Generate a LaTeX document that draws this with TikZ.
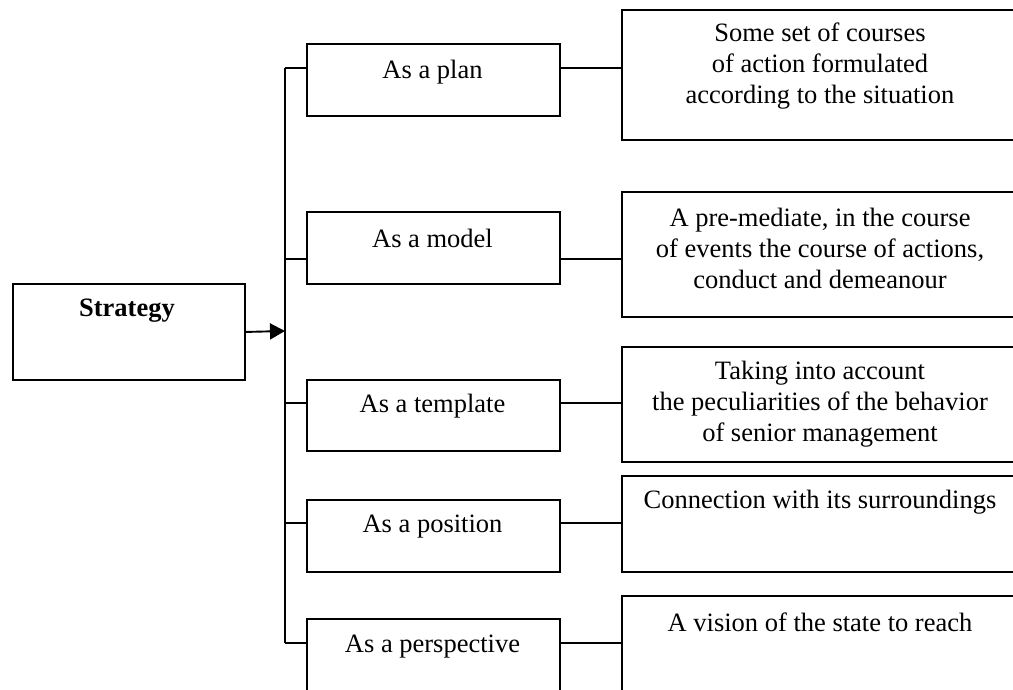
\documentclass[tikz,border=0pt]{standalone}
\usepackage{fontspec}
\setmainfont{Liberation Serif}
\usetikzlibrary{arrows.meta}
\begin{document}
\begin{tikzpicture}[x=1pt,y=-1pt,
  box/.style={draw=black,line width=1.9pt,rectangle,inner sep=0pt,anchor=north west},
  txt/.style={inner sep=0pt,align=center,font=\fontsize{26.5}{31}\selectfont},
  link/.style={draw=black,line width=1.9pt}]
\useasboundingbox (0,0) rectangle (1013,690);
\clip (0,0) rectangle (1013,690);
% Strategy
\node[box,minimum width=232pt,minimum height=96pt] (strat) at (12,283) {};
\node[txt,font=\fontsize{26.5}{31}\selectfont\bfseries] (strattxt) at (127,311) {Strategy};
% middle boxes
\node[box,minimum width=253pt,minimum height=72pt] (m1) at (306,43) {};
\node[box,minimum width=253pt,minimum height=72pt] (m2) at (306,211) {};
\node[box,minimum width=253pt,minimum height=71pt] (m3) at (306,379) {};
\node[box,minimum width=253pt,minimum height=72pt] (m4) at (306,499) {};
\node[box,minimum width=253pt,minimum height=90pt] (m5) at (306,618) {};
\node[txt] (m1t) at (432.5,72) {As a plan};
\node[txt] (m2t) at (432.5,238) {As a model};
\node[txt] (m3t) at (432.5,406) {As a template};
\node[txt] (m4t) at (432.5,527) {As a position};
\node[txt] (m5t) at (432.5,647) {As a perspective};
% right boxes
\node[box,minimum width=398pt,minimum height=130pt] (r1) at (621,9) {};
\node[box,minimum width=398pt,minimum height=125pt] (r2) at (621,191) {};
\node[box,minimum width=398pt,minimum height=115pt] (r3) at (621,346) {};
\node[box,minimum width=398pt,minimum height=96pt] (r4) at (621,475) {};
\node[box,minimum width=398pt,minimum height=110pt] (r5) at (621,595) {};
\node[txt] (r1t) at (820,66) {Some set of courses\\of action formulated\\according to the situation};
\node[txt] (r2t) at (820,248) {A pre-mediate, in the course\\of events the course of actions,\\conduct and demeanour};
\node[txt] (r3t) at (820,404) {Taking into account\\the peculiarities of the behavior\\of senior management};
\node[txt] (r4t) at (820,502) {Connection with its surroundings};
\node[txt] (r5t) at (820,622) {A vision of the state to reach};
% trunk
\coordinate (v1) at (285,68);
\coordinate (v2) at (285,259);
\coordinate (v3) at (285,403);
\coordinate (v4) at (285,523);
\coordinate (v5) at (285,643);
\coordinate (va) at (285,331);
\draw[link] (v1) -- (v5);
\draw[link,-{Triangle[length=15pt,width=16pt]}] (strat.east) -- (va);
\foreach \i in {1,...,5}{
  \draw[link] (v\i) -- (m\i.west |- v\i);
  \draw[link] (m\i.east |- v\i) -- (r\i.west |- v\i);
}
\end{tikzpicture}
\end{document}
